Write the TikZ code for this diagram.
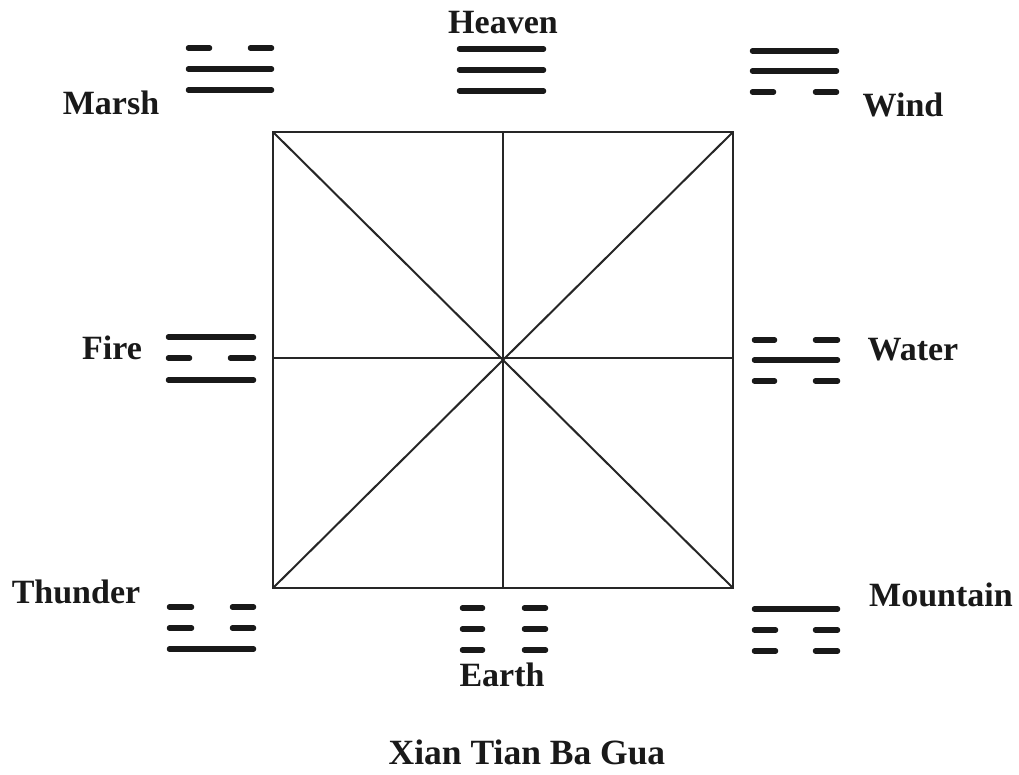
\documentclass[tikz,border=0pt]{standalone}
\usepackage{fontspec}
\setmainfont{Liberation Serif}
\begin{document}
\begin{tikzpicture}[x=1pt,y=-1pt,
  yao/.style={line width=5.5pt,line cap=round,black!90},
  frame/.style={line width=2pt,black!85},
  lbl/.style={font=\fontsize{34}{37}\selectfont\bfseries,inner sep=0pt,text=black!90}]
\useasboundingbox[fill=white] (0,0) rectangle (1019,774);
% square
\coordinate (tl) at (273,132);
\coordinate (tr) at (733,132);
\coordinate (bl) at (273,588);
\coordinate (br) at (733,588);
\coordinate (c) at (503,358);
\coordinate (tm) at (503,132);
\coordinate (bm) at (503,588);
\coordinate (lm) at (273,358);
\coordinate (rm) at (733,358);
\draw[frame] (tl) -- (tr) -- (br) -- (bl) -- cycle;
\draw[frame] (tl) -- (br);
\draw[frame] (tr) -- (bl);
\draw[frame] (tm) -- (bm);
\draw[frame] (lm) -- (rm);
% Marsh
\draw[yao] (188.5,48) -- (209.5,48); \draw[yao] (250.5,48) -- (271.5,48);
\draw[yao] (188.5,69) -- (271.5,69);
\draw[yao] (188.5,90) -- (271.5,90);
% Heaven
\foreach \y in {49,70,91} \draw[yao] (459.5,\y) -- (543.5,\y);
% Wind
\draw[yao] (752.5,51) -- (836.5,51);
\draw[yao] (752.5,71) -- (836.5,71);
\draw[yao] (752.5,92) -- (773.5,92); \draw[yao] (815.5,92) -- (836.5,92);
% Fire
\draw[yao] (168.5,337) -- (253.5,337);
\draw[yao] (168.5,358) -- (189.5,358); \draw[yao] (230.5,358) -- (253.5,358);
\draw[yao] (168.5,380) -- (253.5,380);
% Water
\draw[yao] (754.5,340) -- (774.5,340); \draw[yao] (815.5,340) -- (837.5,340);
\draw[yao] (754.5,360) -- (837.5,360);
\draw[yao] (754.5,381) -- (774.5,381); \draw[yao] (815.5,381) -- (837.5,381);
% Thunder
\draw[yao] (169.5,607) -- (191.5,607); \draw[yao] (232.5,607) -- (253.5,607);
\draw[yao] (169.5,628) -- (191.5,628); \draw[yao] (232.5,628) -- (253.5,628);
\draw[yao] (169.5,649) -- (253.5,649);
% Earth
\foreach \y in {608,629,650} {\draw[yao] (462.5,\y) -- (482.5,\y); \draw[yao] (524.5,\y) -- (545.5,\y);}
% Mountain
\draw[yao] (754.5,609) -- (837.5,609);
\draw[yao] (754.5,630) -- (775.5,630); \draw[yao] (815.5,630) -- (837.5,630);
\draw[yao] (754.5,651) -- (775.5,651); \draw[yao] (815.5,651) -- (837.5,651);
% labels
\node[lbl] (heaven) at (503,23) {Heaven};
\node[lbl] (marsh) at (111,103) {Marsh};
\node[lbl] (wind) at (903,105) {Wind};
\node[lbl] (fire) at (112,348) {Fire};
\node[lbl] (water) at (913,350) {Water};
\node[lbl] (thunder) at (76,592) {Thunder};
\node[lbl] (mountain) at (941,595) {Mountain};
\node[lbl] (earth) at (502,675) {Earth};
\node[lbl,font=\fontsize{35.5}{38}\selectfont\bfseries] (title) at (527,752) {Xian Tian Ba Gua};
\end{tikzpicture}
\end{document}
